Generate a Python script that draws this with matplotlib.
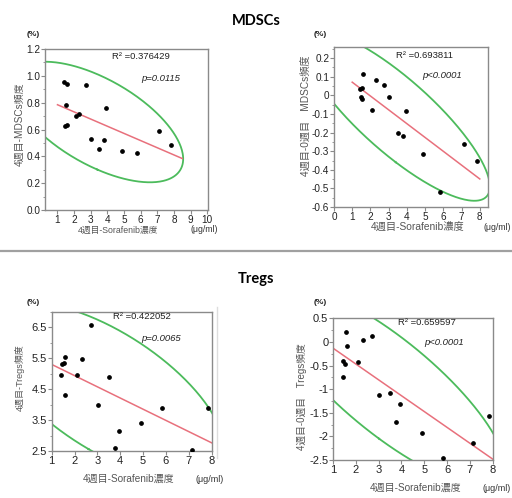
import matplotlib
matplotlib.use("Agg")
import matplotlib.pyplot as plt
from matplotlib.ticker import MultipleLocator, FuncFormatter
import numpy as np

plt.rcParams['font.family'] = ['Liberation Sans', 'Noto Sans CJK JP']

# sorafenib concentration at week 4 (ug/ml), one value per patient
sorafenib = [1.42, 1.46, 1.52, 1.56, 1.60, 2.09, 2.31, 2.72,
             3.01, 3.50, 3.77, 3.93, 4.89, 5.81, 7.13, 7.85]

mdsc_w4 = [0.956, 0.627, 0.782, 0.632, 0.936, 0.702, 0.719, 0.931,
           0.528, 0.456, 0.523, 0.759, 0.443, 0.423, 0.588, 0.488]
mdsc_diff = [0.035, -0.008, 0.041, -0.018, 0.116, -0.076, 0.084, 0.057,
             -0.006, -0.204, -0.219, -0.086, -0.315, -0.521, -0.260, -0.351]
treg_w4 = [4.96, 5.32, 5.34, 4.30, 5.53, 4.95, 5.47, 6.58,
           4.00, 4.88, 2.61, 3.13, 3.41, 3.88, 2.54, 3.88]
treg_diff = [-0.74, -0.40, -0.46, 0.20, -0.08, -0.42, 0.04, 0.13,
             -1.13, -1.08, -1.69, -1.32, -1.93, -2.45, -2.15, -1.57]

r2_text = ["0.376429", "0.693811", "0.422052", "0.659597"]
p_text = ["p=0.0115", "p<0.0001", "p=0.0065", "p<0.0001"]
fit_range = [(1.0, 8.5), (1.0, 8.0), (1.0, 8.0), (1.0, 8.0)]

RED = '#e8707c'
GREEN = '#4cbb5c'
GREY = '#8a8a8a'


def density_ellipse(x, y, k=2.5, n=400):
    x = np.asarray(x); y = np.asarray(y)
    cov = np.cov(x, y)
    vals, vecs = np.linalg.eigh(cov)
    t = np.linspace(0, 2 * np.pi, n)
    circ = np.vstack([np.cos(t), np.sin(t)]) * (k * np.sqrt(vals))[:, None]
    pts = vecs @ circ
    return pts[0] + x.mean(), pts[1] + y.mean()


def panel(ax, x, y, r2, ptxt, frange, fs, tpos):
    ex, ey = density_ellipse(x, y)
    ax.plot(ex, ey, color=GREEN, lw=1.3, zorder=2)
    b, a = np.polyfit(x, y, 1)
    lx = np.array(frange)
    ax.plot(lx, a + b * lx, color=RED, lw=1.1, zorder=2)
    ax.plot(x, y, 'o', color='black', ms=2.4, zorder=3)
    ax.text(tpos[0], tpos[1], "R² =" + r2, transform=ax.transAxes, fontsize=6.8,
            va='center', ha='left', color='#222222')
    ax.text(tpos[2], tpos[3], ptxt, transform=ax.transAxes, fontsize=6.8,
            va='center', ha='left', style='italic', color='#222222')
    for s in ax.spines.values():
        s.set_color(GREY)
        s.set_linewidth(1.0)
    ax.tick_params(which='both', direction='out', color=GREY, labelcolor='#222222',
                   labelsize=fs, pad=0.6)
    ax.tick_params(which='major', length=2.8)
    ax.tick_params(which='minor', length=1.8)
    ax.tick_params(axis='x', which='minor', bottom=False)


fig = plt.figure(figsize=(5.12, 4.98), dpi=100)

ax1 = fig.add_axes([0.0879, 0.5783, 0.3184, 0.3233])
ax2 = fig.add_axes([0.6523, 0.5843, 0.3008, 0.3213])
ax3 = fig.add_axes([0.1010, 0.0944, 0.3125, 0.2797])
ax4 = fig.add_axes([0.6504, 0.0763, 0.3119, 0.2845])

panel(ax1, sorafenib, mdsc_w4, r2_text[0], p_text[0], fit_range[0], 7.2, (0.41, 0.955, 0.59, 0.816))
panel(ax2, sorafenib, mdsc_diff, r2_text[1], p_text[1], fit_range[1], 7.2, (0.40, 0.95, 0.57, 0.82))
panel(ax3, sorafenib, treg_w4, r2_text[2], p_text[2], fit_range[2], 8.0, (0.385, 0.964, 0.5625, 0.81))
panel(ax4, sorafenib, treg_diff, r2_text[3], p_text[3], fit_range[3], 8.0, (0.41, 0.97, 0.57, 0.83))

gfmt = FuncFormatter(lambda v, p: "%g" % round(v, 3))

ax1.set_xlim(0.25, 10.05); ax1.set_ylim(0, 1.2)
ax1.set_xticks(range(1, 11))
ax1.yaxis.set_major_locator(MultipleLocator(0.2))
ax1.yaxis.set_minor_locator(MultipleLocator(0.1))
ax1.yaxis.set_major_formatter(FuncFormatter(lambda v, p: "%.1f" % v))

ax2.set_xlim(0, 8.45); ax2.set_ylim(-0.6, 0.26)
ax2.set_xticks(range(0, 9))
ax2.yaxis.set_major_locator(MultipleLocator(0.1))
ax2.yaxis.set_minor_locator(MultipleLocator(0.05))
ax2.yaxis.set_major_formatter(gfmt)

ax3.set_xlim(1, 8); ax3.set_ylim(2.5, 7.0)
ax3.set_xticks(range(1, 9))
ax3.set_yticks([2.5, 3.5, 4.5, 5.5, 6.5])
ax3.yaxis.set_minor_locator(MultipleLocator(0.5))

ax4.set_xlim(1, 8); ax4.set_ylim(-2.5, 0.5)
ax4.set_xticks(range(1, 9))
ax4.yaxis.set_major_locator(MultipleLocator(0.5))
ax4.yaxis.set_minor_locator(MultipleLocator(0.25))
ax4.yaxis.set_major_formatter(gfmt)


def ftext(px, py, s, ha='center', **kw):
    fig.text(px / 512, 1 - py / 498, s, ha=ha, va='center', **kw)


LAB = '#555555'
# section titles
ftext(256, 21, "MDSCs", fontsize=10.5, fontweight='bold', family=['Lato', 'DejaVu Sans'])
ftext(256, 279, "Tregs", fontsize=10.5, fontweight='bold', family=['Lato', 'DejaVu Sans'])

# unit labels
for px, py in [(33, 35), (320, 35), (33, 302), (320, 302)]:
    ftext(px, py, "(%)", fontsize=6, fontweight='bold', color='#222222')
ftext(204, 230, "(μg/ml)", fontsize=6.3, color='#333333')
ftext(511, 227, "(μg/ml)", ha='right', fontsize=6.3, color='#333333')
ftext(210, 479, "(μg/ml)", fontsize=6.5, color='#333333')
ftext(511, 488, "(μg/ml)", ha='right', fontsize=6.5, color='#333333')

# axis titles
ftext(118, 230, "4週目-Sorafenib濃度", fontsize=6.3, color=LAB)
ftext(418, 227, "4週目-Sorafenib濃度", fontsize=7.4, color=LAB)
ftext(129, 479, "4週目-Sorafenib濃度", fontsize=7.2, color=LAB)
ftext(416, 488, "4週目-Sorafenib濃度", fontsize=7.2, color=LAB)
ftext(20, 124, "4週目-MDSCs頻度", fontsize=7.2, color=LAB, rotation=90)
ftext(306, 116, "4週目-0週目　MDSCs頻度", fontsize=7.3, color=LAB, rotation=90)
ftext(20, 378, "4週目-Tregs頻度", fontsize=6.5, color=LAB, rotation=90)
ftext(302, 397, "4週目-0週目　Tregs頻度", fontsize=7.0, color=LAB, rotation=90)

# separators
fig.add_artist(plt.Line2D([0, 1], [1 - 251 / 498] * 2, color='#a0a0a0', lw=1.6))
fig.add_artist(plt.Line2D([217 / 512] * 2, [1 - 307 / 498, 1 - 458 / 498],
                          color='#dddddd', lw=1.0))

fig.savefig("out.png", dpi=100)
